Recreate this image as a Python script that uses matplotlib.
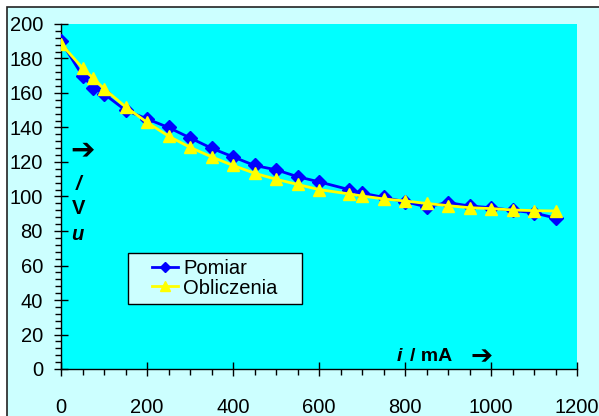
import matplotlib
matplotlib.use("Agg")
import matplotlib.pyplot as plt
from matplotlib.patches import Rectangle
from matplotlib.ticker import MultipleLocator

plt.rcParams['font.family'] = ['Liberation Sans', 'DejaVu Sans']

# current i [mA]
prad = [0, 50, 75, 100, 150, 200, 250, 300, 350, 400, 450, 500, 550,
        600, 670, 700, 750, 800, 850, 900, 950, 1000, 1050, 1100, 1150]
# measured voltage u [V]
pomiar = [190, 170, 163, 159.5, 150, 145, 140, 134, 128, 123, 118, 115.5, 111.5,
          108.5, 104, 102, 99.5, 97, 94, 96.5, 94.5, 93.5, 92, 90.5, 87.5]
# calculated voltage u [V]
obliczenia = [188.5, 174.5, 168.5, 162.5, 152, 143, 135, 128.5, 123, 118, 113.5, 110, 107,
              104, 101.5, 100.3, 98.6, 97.4, 96, 94.7, 93.5, 93, 92.2, 91.8, 91.6]

W, H = 599, 416
fig = plt.figure(figsize=(W / 100, H / 100), dpi=100)
fig.patch.set_facecolor('white')

# outer chart frame
fig.patches.append(Rectangle((7 / W, -0.05), 1.1, 1 - 7 / H + 0.05, transform=fig.transFigure,
                             facecolor='#ccffff', edgecolor='#222222', linewidth=1.2, zorder=-10))

x0, x1, yb, yt = 61, 577, 369, 24
ax = fig.add_axes([x0 / W, (H - yb) / H, (x1 - x0) / W, (yb - yt) / H])
ax.set_zorder(5)
ax.set_facecolor('#00ffff')

ax.plot(prad, pomiar, color='#0000ff', lw=2, marker='D', ms=7, label='Pomiar', zorder=3)
ax.plot(prad, obliczenia, color='#ffff00', lw=2, marker='^', ms=8.5, label='Obliczenia', zorder=4)

ax.set_xlim(0, 1200)
ax.set_ylim(0, 200)
ax.xaxis.set_major_locator(MultipleLocator(200))
ax.xaxis.set_minor_locator(MultipleLocator(50))
ax.yaxis.set_major_locator(MultipleLocator(20))
ax.yaxis.set_minor_locator(MultipleLocator(4))

for s in ['top', 'right']:
    ax.spines[s].set_visible(False)
for s in ['left', 'bottom']:
    ax.spines[s].set_color('black')
    ax.spines[s].set_linewidth(1)

ax.tick_params(axis='x', which='major', direction='inout', length=10, width=1, pad=16, labelsize=14.5)
ax.tick_params(axis='y', which='major', direction='inout', length=10, width=1, pad=8, labelsize=14.5)
ax.tick_params(which='minor', direction='out', length=4, width=1)

# axis labels written inside the plot area
ax.text(49, 127, '➔', fontsize=21, fontweight='bold', ha='center', va='center', family='DejaVu Sans')
ax.text(42, 106.7, '/', fontsize=14.5, fontweight='bold', style='italic', ha='center', va='center')
ax.text(41, 93, 'V', fontsize=14.5, fontweight='bold', ha='center', va='center')
ax.text(38, 78, 'u', fontsize=14.5, fontweight='bold', style='italic', ha='center', va='center')

ax.text(787, 7, 'i', fontsize=14, fontweight='bold', style='italic', ha='center', va='center')
ax.text(812, 7, '/ mA', fontsize=14, fontweight='bold', ha='left', va='center')
ax.text(977, 7, '➔', fontsize=19, fontweight='bold', ha='center', va='center', family='DejaVu Sans')

# legend box
fx = lambda px: (px - x0) / (x1 - x0)
fy = lambda py: (yb - py) / (yb - yt)
ax.add_patch(Rectangle((fx(128), fy(304)), fx(302) - fx(128), fy(253) - fy(304), transform=ax.transAxes,
                       facecolor='#ccffff', edgecolor='black', linewidth=1, zorder=6))
leg = ax.legend(loc='center left', bbox_to_anchor=(fx(152), fy(278.5)), frameon=False,
                fontsize=14.5, borderpad=0, labelspacing=0, handlelength=1.3, handletextpad=0.25,
                borderaxespad=0, markerscale=0.8)
leg.set_zorder(7)

fig.savefig('out.png', dpi=100)
